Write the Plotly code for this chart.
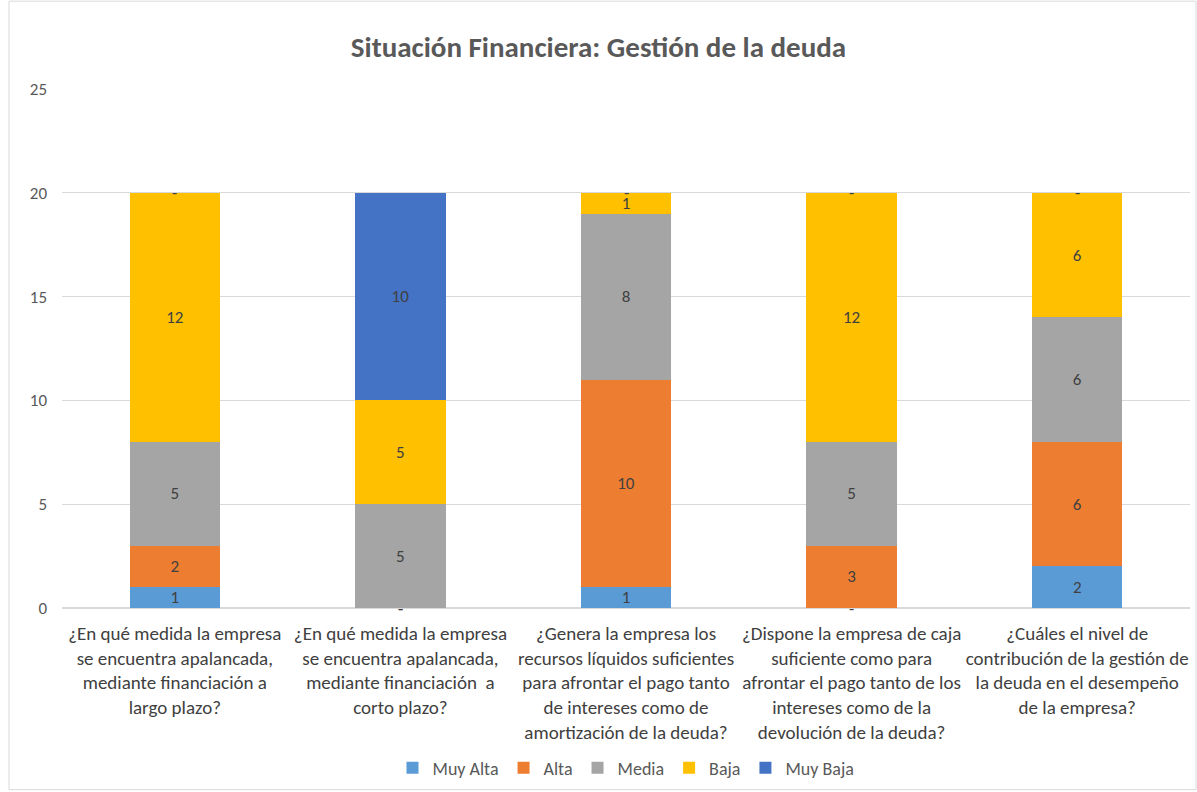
import plotly.graph_objects as go

categories = [
    "¿En qué medida la empresa<br>se encuentra apalancada,<br>mediante financiación a<br>largo plazo?",
    "¿En qué medida la empresa<br>se encuentra apalancada,<br>mediante financiación  a<br>corto plazo?",
    "¿Genera la empresa los<br>recursos líquidos suficientes<br>para afrontar el pago tanto<br>de intereses como de<br>amortización de la deuda?",
    "¿Dispone la empresa de caja<br>suficiente como para<br>afrontar el pago tanto de los<br>intereses como de la<br>devolución de la deuda?",
    "¿Cuáles el nivel de<br>contribución de la gestión de<br>la deuda en el desempeño<br>de la empresa?",
]
muy_alta = [1, 0, 1, 0, 2]
alta = [2, 0, 10, 3, 6]
media = [5, 5, 8, 5, 6]
baja = [12, 5, 1, 12, 6]
muy_baja = [0, 10, 0, 0, 0]

series = [
    ("Muy Alta", muy_alta, "#5B9BD5"),
    ("Alta", alta, "#ED7D31"),
    ("Media", media, "#A5A5A5"),
    ("Baja", baja, "#FFC000"),
    ("Muy Baja", muy_baja, "#4472C4"),
]

font_family = "Carlito, Lato, Open Sans, sans-serif"
fig = go.Figure()
annotations = []
cum = [0] * len(categories)
for name, vals, color in series:
    texts = [str(v) if v != 0 else "" for v in vals]
    fig.add_trace(go.Bar(
        name=name, x=categories, y=vals, marker_color=color,
        marker_line_width=0,
        text=texts, textposition="inside", insidetextanchor="middle",
        textangle=0, constraintext="none",
        textfont=dict(color="#404040", size=17, family=font_family),
        hoverinfo="name+y",
    ))
    for i, v in enumerate(vals):
        if v == 0:
            annotations.append(dict(x=categories[i], y=cum[i], text="-", showarrow=False,
                                    yanchor="middle", font=dict(color="#404040", size=17, family=font_family)))
        cum[i] += v

fig.update_layout(
    barmode="stack",
    bargap=0.6,
    width=1197, height=792,
    margin=dict(l=62, r=7, t=89, b=183),
    paper_bgcolor="white", plot_bgcolor="white",
    title=dict(text="<b>Situación Financiera: Gestión de la deuda</b>", x=0.5, xanchor="center",
               y=1 - 47 / 792, yanchor="middle",
               font=dict(size=29, color="#595959", family=font_family)),
    legend=dict(orientation="h", x=0.5, xanchor="center", y=-0.306, yanchor="middle",
                font=dict(size=18, color="#595959", family=font_family),
                itemwidth=30, tracegroupgap=0, traceorder="normal"),
    uniformtext=dict(minsize=17, mode="show"),
    annotations=annotations,
    font=dict(family=font_family, color="#595959"),
    shapes=[dict(type="rect", xref="paper", yref="paper",
                 x0=(9 - 62) / 1128, x1=(1196 - 62) / 1128,
                 y0=(609 - 791) / 520, y1=(609 - 1) / 520,
                 line=dict(color="#D9D9D9", width=1), layer="below")],
)
fig.update_yaxes(range=[0, 25], dtick=5, showgrid=True, gridcolor="#D9D9D9", gridwidth=1,
                 zeroline=True, zerolinecolor="#D9D9D9", showline=False,
                 tickfont=dict(size=17, color="#595959", family=font_family),
                 ticklabelstandoff=14)
fig.update_xaxes(showline=False, tickfont=dict(size=19, color="#404040", family=font_family),
                 ticklabelstandoff=12)

fig.write_html("out.html", config={"displayModeBar": False},
               post_script="document.body.style.margin='0';document.body.style.overflow='hidden';")
